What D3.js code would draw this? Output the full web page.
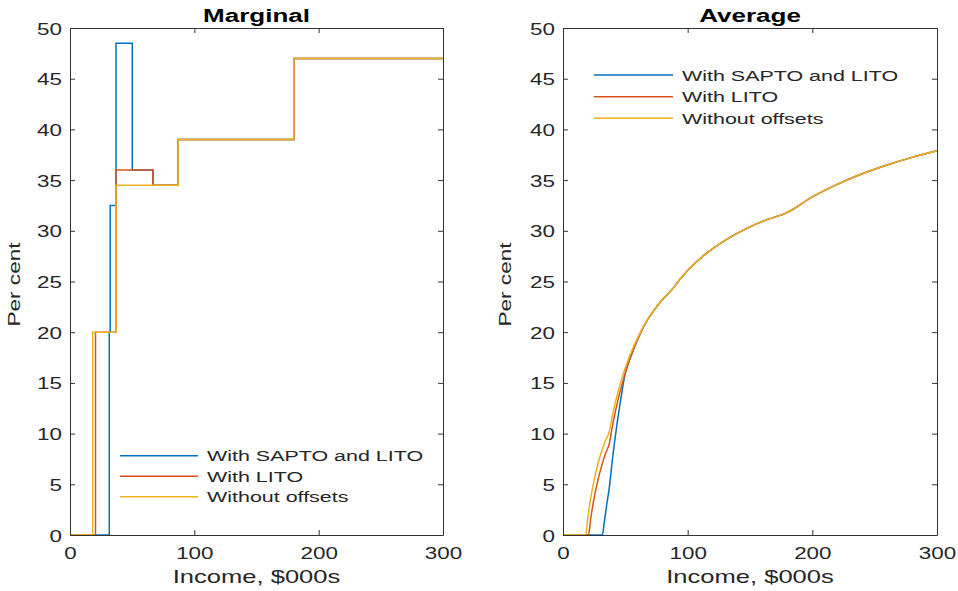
<!DOCTYPE html>
<html><head><meta charset="utf-8">
<script src="https://cdn.jsdelivr.net/npm/d3@7"></script>
<style>body{margin:0;background:#fff}svg{display:block}</style>
</head><body>
<svg id="c" width="958" height="591"></svg>
<script>
// ---------- data ----------
const seriesNames = ["With SAPTO and LITO", "With LITO", "Without offsets"];
const seriesColors = ["#0072BD", "#D95319", "#EDB120"];
const xTicks = [0, 100, 200, 300];
const yTicks = [0, 5, 10, 15, 20, 25, 30, 35, 40, 45, 50];

// Marginal rates (step functions): breakpoints ($000s) and rate (%) from each breakpoint
const margSaptoX = [0, 31.6, 32.3, 37, 50.1, 66.7, 87, 180, 300];
const margSaptoY = [0, 20, 32.5, 48.5, 36, 34.5, 39, 47, 47];
const margLitoX  = [0, 20.5, 37, 66.7, 87, 180, 300];
const margLitoY  = [0, 20, 36, 34.5, 39, 47, 47];
const margNoneX  = [0, 18.2, 37, 87, 180, 300];
const margNoneY  = [0, 20, 34.5, 39, 47, 47];

// Average rates (%)
const avgSaptoX = [0, 31.6, 33, 35, 37, 40, 43, 46, 50.1, 55, 60, 66.7, 70, 75, 80, 87, 95, 105, 115, 130, 145, 160, 180, 200, 220, 240, 260, 280, 300];
const avgSaptoY = [0, 0, 1.14, 2.93, 4.53, 7.83, 10.66, 13.13, 16.03, 17.81, 19.33, 21.0, 21.64, 22.49, 23.24, 24.15, 25.40, 26.70, 27.77, 29.06, 30.09, 30.93, 31.82, 33.34, 34.58, 35.62, 36.49, 37.24, 37.89];
const avgLitoX  = [0, 20.5, 22, 25, 28, 31, 34, 37, 40, 45, 50, 55, 60, 66.7, 70, 75, 80, 87, 95, 105, 115, 130, 145, 160, 180, 200, 220, 240, 260, 280, 300];
const avgLitoY  = [0, 0, 1.43, 3.66, 5.41, 6.82, 7.99, 8.96, 10.99, 13.77, 15.99, 17.81, 19.33, 21.0, 21.64, 22.49, 23.24, 24.15, 25.40, 26.70, 27.77, 29.06, 30.09, 30.93, 31.82, 33.34, 34.58, 35.62, 36.49, 37.24, 37.89];
const avgNoneX  = [0, 18.2, 20, 22, 25, 28, 31, 34, 37, 40, 45, 50, 55, 60, 65, 70, 75, 80, 87, 95, 105, 115, 130, 145, 160, 180, 200, 220, 240, 260, 280, 300];
const avgNoneY  = [0, 0, 1.80, 3.45, 5.44, 7.00, 8.26, 9.29, 10.16, 11.99, 14.49, 16.49, 18.13, 19.49, 20.65, 21.64, 22.49, 23.24, 24.15, 25.40, 26.70, 27.77, 29.06, 30.09, 30.93, 31.82, 33.34, 34.58, 35.62, 36.49, 37.24, 37.89];

const zip = (xs, ys) => xs.map((x, i) => ({x, y: ys[i]}));

// ---------- drawing ----------
const svg = d3.select("#c");
const FONT = "'Liberation Sans', Arial, Helvetica, sans-serif";
const AXC = "#333333";

function txt(parent, x, y, s, o) {
  o = o || {};
  const g = parent.append("g")
    .attr("transform", `translate(${x},${y}) rotate(${o.rot || 0}) scale(${o.sx || 1.4},1)`);
  g.append("text").text(s)
    .attr("text-anchor", o.anchor || "start")
    .attr("font-family", FONT)
    .attr("font-size", o.size || 16)
    .attr("font-weight", o.weight || "normal")
    .attr("fill", o.fill || "#262626");
  return g;
}

const panels = [
  {left: 70, right: 443, title: "Marginal", step: true,
   series: [zip(margSaptoX, margSaptoY), zip(margLitoX, margLitoY), zip(margNoneX, margNoneY)],
   legend: {x1: 120, x2: 198, tx: 207, ys: [455.7, 476.2, 496.7]}, ylab: 20},
  {left: 563, right: 937, title: "Average", step: false,
   series: [zip(avgSaptoX, avgSaptoY), zip(avgLitoX, avgLitoY), zip(avgNoneX, avgNoneY)],
   legend: {x1: 594, x2: 673, tx: 682, ys: [75, 96.7, 118.3]}, ylab: 511}
];
const plotTop = 28, plotBottom = 535;

panels.forEach(p => {
  const x = d3.scaleLinear().domain([0, 300]).range([p.left, p.right]);
  const y = d3.scaleLinear().domain([0, 50]).range([plotBottom, plotTop]);
  const g = svg.append("g");

  // series
  const line = d3.line().x(d => x(d.x)).y(d => y(d.y))
    .curve(p.step ? d3.curveStepAfter : d3.curveMonotoneX);
  p.series.forEach((s, i) => {
    g.append("path").datum(s).attr("d", line)
      .attr("fill", "none").attr("stroke", seriesColors[i])
      .attr("stroke-width", 1.5).attr("stroke-linejoin", "miter");
  });

  // axes
  const styleAxis = sel => {
    sel.select(".domain").attr("stroke", AXC).attr("stroke-width", 1);
    sel.selectAll(".tick line").attr("stroke", AXC).attr("stroke-width", 1);
  };
  const gb = g.append("g").attr("transform", `translate(0,${plotBottom})`)
    .call(d3.axisBottom(x).tickValues(xTicks).tickSizeInner(-5).tickSizeOuter(0).tickFormat(""));
  styleAxis(gb);
  gb.selectAll(".tick").each(function(d) {
    txt(d3.select(this), 0, 24, String(d), {anchor: "middle", size: 16});
  });
  const gt = g.append("g").attr("transform", `translate(0,${plotTop})`)
    .call(d3.axisTop(x).tickValues(xTicks).tickSizeInner(-5).tickSizeOuter(0).tickFormat(""));
  styleAxis(gt);
  const gl = g.append("g").attr("transform", `translate(${p.left},0)`)
    .call(d3.axisLeft(y).tickValues(yTicks).tickSizeInner(-5).tickSizeOuter(0).tickFormat(""));
  styleAxis(gl);
  gl.selectAll(".tick").each(function(d) {
    txt(d3.select(this), -8, 6, String(d), {anchor: "end", size: 16});
  });
  const gr = g.append("g").attr("transform", `translate(${p.right},0)`)
    .call(d3.axisRight(y).tickValues(yTicks).tickSizeInner(-5).tickSizeOuter(0).tickFormat(""));
  styleAxis(gr);

  // titles and labels
  const cx = (p.left + p.right) / 2;
  txt(g, cx, 22, p.title, {anchor: "middle", size: 19, weight: "bold", fill: "#000", sx: 1.37});
  txt(g, cx, 583, "Income, $000s", {anchor: "middle", size: 18, sx: 1.42});
  txt(g, p.ylab, (plotTop + plotBottom) / 2 + 3, "Per cent", {anchor: "middle", size: 17, rot: -90, sx: 1.33});

  // legend
  seriesNames.forEach((n, i) => {
    const ly = p.legend.ys[i];
    g.append("line").attr("x1", p.legend.x1).attr("x2", p.legend.x2)
      .attr("y1", ly).attr("y2", ly)
      .attr("stroke", seriesColors[i]).attr("stroke-width", 1.5);
    txt(g, p.legend.tx, ly + 5.5, n, {size: 15, sx: 1.43});
  });
});
</script>
</body></html>
